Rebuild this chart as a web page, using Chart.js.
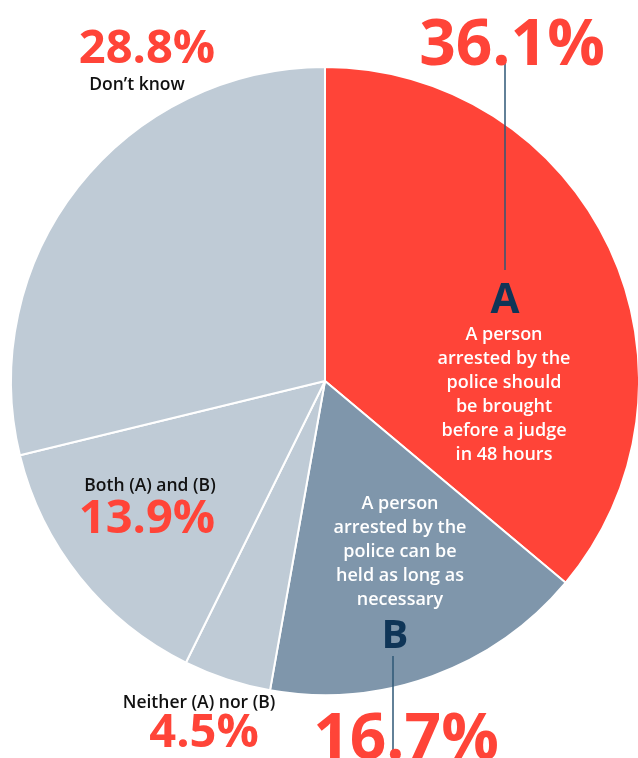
<!DOCTYPE html>
<html>
<head>
<meta charset="utf-8">
<script src="https://cdn.jsdelivr.net/npm/chart.js@4"></script>
<style>
  html, body { margin: 0; padding: 0; background: #fff; }
  #wrap { width: 638px; height: 758px; position: relative; }
</style>
</head>
<body>
<div id="wrap"><canvas id="pie"></canvas></div>
<script>
// ---- data ----
const categories = ['A', 'B', 'Neither (A) nor (B)', 'Both (A) and (B)', 'Don\u2019t know'];
const shares = [36.1, 16.7, 4.5, 13.9, 28.8];
const statementA = ['A person', 'arrested by the', 'police should', 'be brought', 'before a judge', 'in 48 hours'];
const statementB = ['A person', 'arrested by the', 'police can be', 'held as long as', 'necessary'];

// ---- styles ----
const RED = '#ff4438';
const NAVY = '#0f3557';
const LEADER = '#2f5877';
const sliceColors = ['#ff4438', '#7f96ab', '#bfcbd6', '#bfcbd6', '#bfcbd6'];
const FONT = '"Open Sans", Lato, sans-serif';

const pct = v => v.toFixed(1) + '%';

// labels, leader lines and statements drawn on top of the slices
const labelPlugin = {
    id: 'pieLabels',
    afterDraw(chart) {
        const c = chart.ctx;
        const text = (str, x, y, size, color, weight) => {
            c.font = `${weight || 700} ${size}px ${FONT}`;
            c.fillStyle = color;
            c.textAlign = 'center';
            c.textBaseline = 'alphabetic';
            c.fillText(str, x, y);
        };
        c.save();

        // leader lines
        c.strokeStyle = LEADER;
        c.lineWidth = 1.5;
        c.beginPath();
        c.moveTo(505, 60); c.lineTo(505, 270);
        c.moveTo(393, 656); c.lineTo(393, 750);
        c.stroke();

        // slice A
        text(pct(shares[0]), 512, 65, 64, RED);
        text(categories[0], 505, 313, 42, NAVY);
        statementA.forEach((s, i) => text(s, 504, 340 + i * 24, 18, '#fff', 600));

        // slice B
        statementB.forEach((s, i) => text(s, 400, 509 + i * 24, 18, '#fff', 600));
        text(categories[1], 395, 648, 40, NAVY);
        text(pct(shares[1]), 406, 759, 64, RED);

        // Neither
        text(categories[2], 199, 708, 17.5, '#111', 600);
        text(pct(shares[2]), 204, 747, 47, RED);

        // Both
        text(categories[3], 150, 491, 17.5, '#111', 600);
        text(pct(shares[3]), 147, 533, 47, RED);

        // Don't know
        text(pct(shares[4]), 147, 63, 47, RED);
        text(categories[4], 137, 90, 17.5, '#111', 600);

        c.restore();
    }
};

new Chart(document.getElementById('pie').getContext('2d'), {
    type: 'pie',
    data: {
        labels: categories,
        datasets: [{
            data: shares,
            backgroundColor: sliceColors,
            borderColor: '#fff',
            borderWidth: 2
        }]
    },
    options: {
        responsive: true,
        maintainAspectRatio: false,
        animation: false,
        radius: 314,
        layout: { padding: { left: 12, right: 0, top: 4, bottom: 0 } },
        plugins: { legend: { display: false }, tooltip: { enabled: false } }
    },
    plugins: [labelPlugin]
});
</script>
</body>
</html>
